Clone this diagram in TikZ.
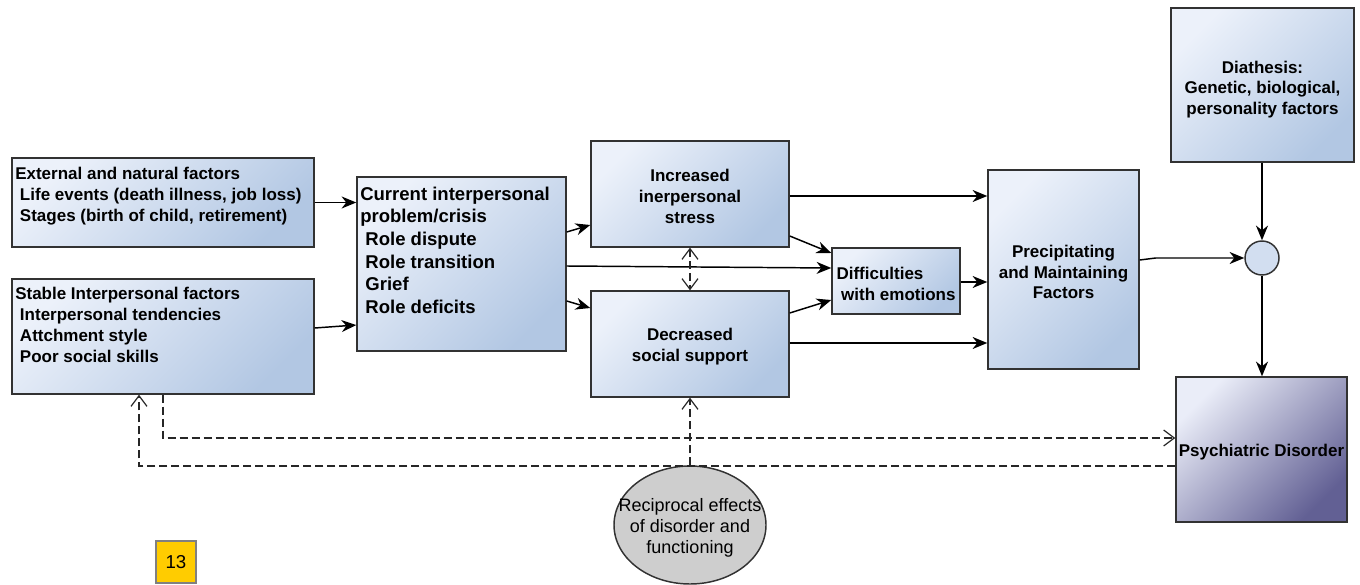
\documentclass[tikz,border=0pt]{standalone}
\usepackage{fontspec}
\setmainfont{Liberation Sans}
\usetikzlibrary{arrows.meta,shapes.geometric,calc}
\definecolor{boxlight}{RGB}{236,241,250}
\definecolor{boxdark}{RGB}{178,199,227}
\definecolor{psylight}{RGB}{234,237,248}
\definecolor{psydark}{RGB}{98,96,148}
\definecolor{edgec}{RGB}{50,50,50}
\definecolor{circfill}{RGB}{210,222,240}
\definecolor{ellfill}{RGB}{206,206,206}
\definecolor{tagfill}{RGB}{255,204,0}
\begin{document}
\begin{tikzpicture}[x=0.75pt,y=-0.75pt,
  box/.style={draw=edgec, line width=1.1pt, top color=boxlight, bottom color=boxdark, shading angle=45, inner sep=0pt},
  psybox/.style={draw=edgec, line width=1.1pt, top color=psylight, bottom color=psydark, shading angle=45, inner sep=0pt},
  txt/.style={inner sep=0pt, font=\fontsize{12.75}{15.75}\selectfont\bfseries, align=left},
  ctxt/.style={inner sep=0pt, font=\fontsize{12.75}{15.5}\selectfont\bfseries, align=center, yshift=-1.9pt},
  arr/.style={-{Stealth[length=11pt,width=9pt,inset=3.5pt]}, line width=1.1pt, draw=black},
  dsh/.style={dash pattern=on 6pt off 3pt, line width=1pt, draw=black!85},
  opentip/.style={-{Straight Barb[length=8pt,width=12pt,line width=0.9pt]}},
  bothtip/.style={{Straight Barb[length=8pt,width=12pt,line width=0.9pt]}-{Straight Barb[length=8pt,width=12pt,line width=0.9pt]}}
]
\useasboundingbox (0,0) rectangle (1360,585);

% boxes
\node[box, minimum width=226.5pt, minimum height=66.75pt] (ext) at (163,202.5) {};
\node[box, minimum width=226.5pt, minimum height=86.25pt] (stab) at (163,336.5) {};
\node[box, minimum width=156.75pt, minimum height=130.5pt] (cur) at (461.5,264) {};
\node[box, minimum width=148.5pt, minimum height=79.5pt] (inc) at (690,194) {};
\node[box, minimum width=148.5pt, minimum height=79.5pt] (dec) at (690,344) {};
\node[box, minimum width=96pt, minimum height=49.5pt] (diff) at (896,281) {};
\node[box, minimum width=113.25pt, minimum height=149.25pt] (prec) at (1063.5,269.5) {};
\node[box, minimum width=137.25pt, minimum height=115.5pt] (diath) at (1262.5,85) {};
\node[psybox, minimum width=128.25pt, minimum height=108.75pt] (psy) at (1261.5,449.5) {};
\node[circle, draw=edgec, line width=1.1pt, fill=circfill, minimum size=25.5pt, inner sep=0pt] (circ) at (1262,258) {};
\node[ellipse, draw=edgec, line width=1.1pt, fill=ellfill, minimum width=114pt, minimum height=88.5pt, inner sep=0pt] (ell) at (690,525) {};
\node[draw=gray, line width=0.8pt, fill=tagfill, minimum width=30pt, minimum height=31.5pt, inner sep=0pt,
      font=\fontsize{14}{16}\selectfont] (tag) at (176,562) {13};

% texts
\node[txt, anchor=north west] (extT) at (15,167) {External and natural factors\\\ Life events (death illness, job loss)\\\ Stages (birth of child, retirement)};
\node[txt, anchor=north west] (stabT) at (15,287) {Stable Interpersonal factors\\\ Interpersonal tendencies\\\ Attchment style\\\ Poor social skills};
\node[txt, anchor=north west, font=\fontsize{13.9}{17}\selectfont\bfseries] (curT) at (360,186.5) {Current interpersonal\\problem/crisis\\\ Role dispute\\\ Role transition\\\ Grief\\\ Role deficits};
\node[ctxt] (incT) at (inc) {Increased\\inerpersonal\\stress};
\node[ctxt] (decT) at (dec) {Decreased\\social support};
\node[txt, yshift=-1.9pt] (diffT) at (diff) {Difficulties\\\ with emotions};
\node[ctxt] (precT) at (prec) {Precipitating\\and Maintaining\\Factors};
\node[ctxt] (diathT) at (1262.5,87) {Diathesis:\\Genetic, biological,\\personality factors};
\node[ctxt] (psyT) at (psy) {Psychiatric Disorder};
\node[inner sep=0pt, align=center, font=\fontsize{13.5}{16}\selectfont] (ellT) at (690,528) {Reciprocal effects\\of disorder and\\functioning};

% solid connectors
\draw[arr] (ext.east) -- (ext.east -| cur.west);
\draw[arr] (stab.east |- 0,328) -- (cur.west |- 0,325);
\draw[arr] (cur.east |- 0,232) -- (inc.west |- 0,225);
\draw[arr] (cur.east |- 0,301) -- (dec.west |- 0,308);
\draw[arr] (cur.east |- 0,266) -- (diff.west |- 0,268);
\draw[arr] (inc.east |- 0,236) -- (diff.west |- 0,253);
\draw[arr] (dec.east |- 0,313) -- (diff.west |- 0,300);
\draw[arr] (inc.east |- 0,196) -- (prec.west |- 0,196);
\draw[arr] (dec.east |- 0,343) -- (prec.west |- 0,343);
\draw[arr] (diff.east |- 0,282) -- (prec.west |- 0,282);
\draw[arr] (prec.east |- 0,260) -- ++(16,-2) -- (circ.west);
\draw[arr] (diath.south -| circ) -- (circ.north);
\draw[arr] (circ.south) -- (psy.north -| circ);

% dashed connectors
\draw[dsh, bothtip] (inc.south) -- (dec.north);
\draw[dsh, opentip] (ell.north) -- (dec.south);
\draw[dsh, opentip] (stab.south -| 163,0) -- (163,438) -- (psy.west |- 0,438);
\draw[dsh, opentip] (psy.west |- 0,466) -- (139,466) -- (stab.south -| 139,0);
\end{tikzpicture}
\end{document}
